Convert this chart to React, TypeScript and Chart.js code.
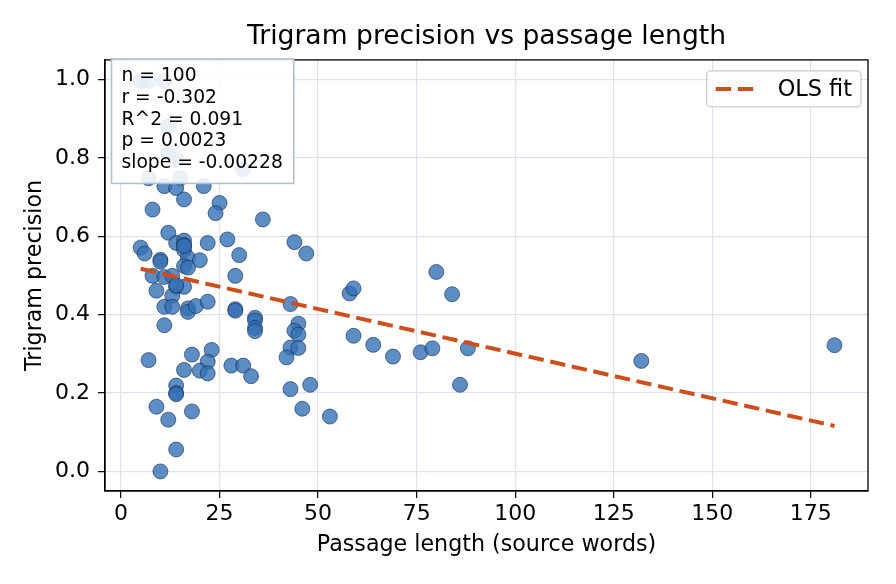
import React, { useEffect, useRef } from 'react';
import { Chart, registerables } from 'chart.js';

Chart.register(...registerables);

const titleText = 'Trigram precision vs passage length';
const xLabel = 'Passage length (source words)';
const yLabel = 'Trigram precision';
const fitLabel = 'OLS fit';

const passageLength = [
  5, 7, 11, 12, 12, 14, 7, 15, 31, 11,
  14, 21, 16, 25, 8, 24, 12, 5, 6, 14,
  16, 16, 16, 22, 27, 30, 10, 10, 17, 20,
  16, 17, 8, 11, 13, 14, 16, 9, 13, 11,
  13, 17, 17, 19, 22, 11, 29, 29, 29, 7,
  18, 23, 22, 16, 20, 22, 28, 14, 14, 14,
  9, 12, 18, 14, 10, 36, 44, 47, 34, 34,
  34, 34, 43, 45, 44, 45, 43, 45, 42, 31,
  33, 43, 48, 58, 59, 59, 46, 53, 64, 69,
  76, 79, 88, 80, 84, 86, 132, 181, 14, 16,
];

const trigramPrecision = [
  0.997, 0.997, 0.997, 0.880, 0.812, 0.796, 0.748, 0.748, 0.771, 0.728,
  0.723, 0.728, 0.694, 0.685, 0.668, 0.659, 0.609, 0.571, 0.556, 0.583,
  0.589, 0.578, 0.565, 0.583, 0.592, 0.552, 0.540, 0.535, 0.545, 0.539,
  0.524, 0.520, 0.499, 0.496, 0.499, 0.471, 0.471, 0.461, 0.448, 0.420,
  0.420, 0.416, 0.407, 0.422, 0.433, 0.373, 0.414, 0.410, 0.499, 0.284,
  0.298, 0.310, 0.280, 0.259, 0.257, 0.250, 0.270, 0.219, 0.200, 0.197,
  0.165, 0.132, 0.153, 0.056, 0.000, 0.643, 0.585, 0.556, 0.392, 0.385,
  0.366, 0.358, 0.427, 0.377, 0.359, 0.349, 0.316, 0.315, 0.291, 0.270,
  0.243, 0.210, 0.221, 0.454, 0.467, 0.346, 0.160, 0.140, 0.323, 0.293,
  0.304, 0.314, 0.314, 0.509, 0.452, 0.221, 0.282, 0.322, 0.475, 0.575,
];

const fitX = [5, 181];
const fitY = [0.517, 0.116];

const xTicks = [0, 25, 50, 75, 100, 125, 150, 175];
const yTicks = [0, 0.2, 0.4, 0.6, 0.8, 1.0];

const statsLines = [
  'n = 100',
  'r = -0.302',
  'R^2 = 0.091',
  'p = 0.0023',
  'slope = -0.00228',
];

const FONT = "'DejaVu Sans', sans-serif";
const FIT_COLOR = '#cc4f1c';
const DASH = [15.4, 6.7];

const overlayPlugin = {
  id: 'overlay',
  afterDraw(chart: any) {
    const { ctx, chartArea: a } = chart;
    ctx.save();
    // full frame spines
    ctx.strokeStyle = '#000';
    ctx.lineWidth = 1.3;
    ctx.strokeRect(a.left, a.top, a.right - a.left, a.bottom - a.top);

    // stats box
    ctx.font = `18.7px ${FONT}`;
    const lh = 21.7;
    let maxW = 0;
    statsLines.forEach((s) => { maxW = Math.max(maxW, ctx.measureText(s).width); });
    const bx = a.left + 6.5;
    const by = a.top - 1;
    const bw = maxW + 21;
    const bh = lh * statsLines.length + 16;
    ctx.fillStyle = 'rgba(255,255,255,0.88)';
    ctx.fillRect(bx, by, bw, bh);
    ctx.strokeStyle = '#b3bfcf';
    ctx.lineWidth = 1.6;
    ctx.strokeRect(bx, by, bw, bh);
    ctx.fillStyle = '#000';
    ctx.textBaseline = 'middle';
    ctx.textAlign = 'left';
    statsLines.forEach((s, i) => {
      ctx.fillText(s, bx + 10, by + 17.5 + i * lh);
    });

    // legend
    ctx.font = `22.4px ${FONT}`;
    const tw = ctx.measureText(fitLabel).width;
    const lw = 71 + tw + 9;
    const lhgt = 36;
    const lx = a.right - 7 - lw;
    const ly = a.top + 11;
    ctx.beginPath();
    if (ctx.roundRect) ctx.roundRect(lx, ly, lw, lhgt, 4); else ctx.rect(lx, ly, lw, lhgt);
    ctx.fillStyle = 'rgba(255,255,255,0.85)';
    ctx.fill();
    ctx.strokeStyle = '#cccccc';
    ctx.lineWidth = 1.3;
    ctx.stroke();
    ctx.beginPath();
    ctx.setLineDash(DASH);
    ctx.strokeStyle = FIT_COLOR;
    ctx.lineWidth = 4;
    ctx.moveTo(lx + 9, ly + lhgt / 2);
    ctx.lineTo(lx + 9 + 38, ly + lhgt / 2);
    ctx.stroke();
    ctx.setLineDash([]);
    ctx.fillStyle = '#000';
    ctx.textBaseline = 'middle';
    ctx.fillText(fitLabel, lx + 71, ly + lhgt / 2 + 1);
    ctx.restore();
  },
};

export default function App() {
  const ref = useRef<HTMLCanvasElement | null>(null);

  useEffect(() => {
    if (!ref.current) return;
    const points = passageLength.map((x, i) => ({ x, y: trigramPrecision[i] }));
    const fit = fitX.map((x, i) => ({ x, y: fitY[i] }));
    const chart = new Chart(ref.current, {
      type: 'scatter',
      data: {
        datasets: [
          {
            label: 'passages',
            data: points,
            backgroundColor: 'rgba(52,112,182,0.8)',
            borderColor: 'rgba(20,38,70,0.85)',
            borderWidth: 0.7,
            pointRadius: 7.5,
            pointHoverRadius: 7.5,
            showLine: false,
            order: 2,
          },
          {
            label: fitLabel,
            data: fit,
            showLine: true,
            borderColor: FIT_COLOR,
            borderWidth: 4,
            borderDash: DASH,
            pointRadius: 0,
            fill: false,
            order: 1,
          },
        ],
      },
      options: {
        responsive: false,
        animation: false,
        layout: { padding: { left: 0, right: 28, top: 0, bottom: 0 } },
        plugins: {
          legend: { display: false },
          tooltip: { enabled: false },
          title: {
            display: true,
            text: titleText,
            fullSize: false,
            color: '#000',
            font: { family: FONT, size: 26.6, weight: 'normal' },
            padding: { top: 21, bottom: 7 },
          },
        },
        scales: {
          x: {
            type: 'linear',
            min: -4.05,
            max: 189.5,
            afterBuildTicks: (s: any) => { s.ticks = xTicks.map((v) => ({ value: v })); },
            afterFit: (s: any) => { s.height = 93; },
            grid: { color: '#dde3ec', lineWidth: 1.3, tickColor: '#000', tickLength: 7, tickWidth: 1.2 },
            border: { display: true, color: '#000', width: 1.3 },
            ticks: {
              color: '#000',
              font: { family: FONT, size: 22 },
              padding: 3,
              maxRotation: 0,
              autoSkip: false,
              callback: (v: any) => String(v),
            },
            title: {
              display: true,
              text: xLabel,
              color: '#000',
              font: { family: FONT, size: 22.2 },
              padding: { top: 0, bottom: 25 },
            },
          },
          y: {
            type: 'linear',
            min: -0.05,
            max: 1.05,
            afterBuildTicks: (s: any) => { s.ticks = yTicks.map((v) => ({ value: v })); },
            afterFit: (s: any) => { s.width = 105; },
            grid: { color: '#dde3ec', lineWidth: 1.3, tickColor: '#000', tickLength: 7, tickWidth: 1.2 },
            border: { display: true, color: '#000', width: 1.3 },
            ticks: {
              color: '#000',
              font: { family: FONT, size: 22 },
              padding: 8,
              autoSkip: false,
              callback: (v: any) => Number(v).toFixed(1),
            },
            title: {
              display: true,
              text: yLabel,
              color: '#000',
              font: { family: FONT, size: 22.2 },
              padding: { top: 22, bottom: 0 },
            },
          },
        },
      },
      plugins: [overlayPlugin],
    });
    return () => chart.destroy();
  }, []);

  return (
    <div style={{ position: 'fixed', left: 0, top: 0, width: 896, height: 584, background: '#fff' }}>
      <canvas ref={ref} width={896} height={584} style={{ display: 'block' }} />
    </div>
  );
}
